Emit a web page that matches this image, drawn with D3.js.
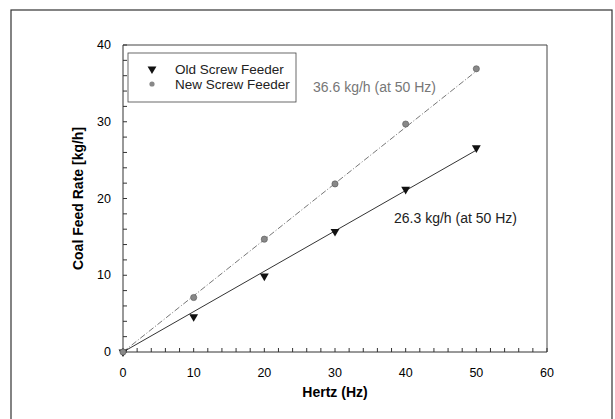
<!DOCTYPE html>
<html>
<head>
<meta charset="utf-8">
<script src="https://cdn.jsdelivr.net/npm/d3@7"></script>
<style>
  body { margin: 0; background: #fff; }
  text { font-family: Arial, "Liberation Sans", sans-serif; }
</style>
</head>
<body>
<div id="chart"></div>
<script>
// measured points
const hz = [0, 10, 20, 30, 40, 50];
const oldFeeder = [0, 4.6, 9.9, 15.7, 21.2, 26.6];
const newFeeder = [0, 7.1, 14.7, 21.9, 29.7, 36.9];
// linear fits (end points)
const fitHz = [0, 50];
const oldFit = [0, 26.3];
const newFit = [0, 36.6];
const xTicks = [0, 10, 20, 30, 40, 50, 60];
const yTicks = [0, 10, 20, 30, 40];

const W = 615, H = 419;
const margin = { top: 45, right: 68, bottom: 67, left: 123 };

const svg = d3.select('#chart').append('svg')
  .attr('width', W).attr('height', H);

// outer frame
svg.append('rect')
  .attr('x', 11).attr('y', 10).attr('width', 601).attr('height', 420)
  .attr('fill', 'none').attr('stroke', '#333').attr('stroke-width', 1.2);

const x = d3.scaleLinear().domain([0, 60]).range([margin.left, W - margin.right]);
const y = d3.scaleLinear().domain([0, 40]).range([H - margin.bottom, margin.top]);

// plot box (top + right)
svg.append('path')
  .attr('d', `M${x(0)},${y(40)}H${x(60)}V${y(0)}`)
  .attr('fill', 'none').attr('stroke', '#444').attr('stroke-width', 1);

// x axis: inward ticks, minor every 2
const xAxis = svg.append('g').attr('transform', `translate(0,${y(0)})`);
xAxis.append('line').attr('x1', x(0)).attr('x2', x(60)).attr('stroke', '#333');
xAxis.selectAll('.minor').data(d3.range(0, 61, 2)).enter().append('line')
  .attr('x1', d => x(d)).attr('x2', d => x(d))
  .attr('y1', 0).attr('y2', -4).attr('stroke', '#333');
xAxis.selectAll('.lab').data(xTicks).enter().append('text')
  .attr('x', d => x(d)).attr('y', 25)
  .attr('text-anchor', 'middle').style('font-size', '12.5px').text(d => d);

// y axis
const yAxis = svg.append('g').attr('transform', `translate(${x(0)},0)`);
yAxis.append('line').attr('y1', y(0)).attr('y2', y(40)).attr('stroke', '#333');
yAxis.selectAll('.minor').data(d3.range(0, 41, 2)).enter().append('line')
  .attr('y1', d => y(d)).attr('y2', d => y(d))
  .attr('x1', 0).attr('x2', 4).attr('stroke', '#333');
yAxis.selectAll('.lab').data(yTicks).enter().append('text')
  .attr('x', -12).attr('y', d => y(d) + 4)
  .attr('text-anchor', 'end').style('font-size', '12.5px').text(d => d);

// axis titles
svg.append('text')
  .attr('transform', `translate(83,${(y(0) + y(40)) / 2}) rotate(-90)`)
  .attr('text-anchor', 'middle').style('font-size', '14px').style('font-weight', 'bold')
  .text('Coal Feed Rate [kg/h]');
svg.append('text')
  .attr('x', (x(0) + x(60)) / 2).attr('y', 397)
  .attr('text-anchor', 'middle').style('font-size', '14px').style('font-weight', 'bold')
  .text('Hertz (Hz)');

// fit lines
const fitLine = vals => d3.line().x((d, i) => x(fitHz[i])).y(d => y(d))(vals);
svg.append('path').attr('d', fitLine(newFit))
  .attr('fill', 'none').attr('stroke', '#777').attr('stroke-width', 1)
  .attr('stroke-dasharray', '6,2,1,2');
svg.append('path').attr('d', fitLine(oldFit))
  .attr('fill', 'none').attr('stroke', '#333').attr('stroke-width', 1);

// markers
const tri = d3.symbol().type(d3.symbolTriangle).size(34);
svg.selectAll('.old').data(oldFeeder).enter().append('path')
  .attr('d', tri)
  .attr('transform', (d, i) => `translate(${x(hz[i])},${y(d)}) rotate(180)`)
  .attr('fill', '#111');
svg.selectAll('.new').data(newFeeder).enter().append('circle')
  .attr('cx', (d, i) => x(hz[i])).attr('cy', d => y(d)).attr('r', 3.1)
  .attr('fill', '#888').attr('stroke', '#555').attr('stroke-width', 0.6);

// annotations
svg.append('text').attr('x', 313).attr('y', 92)
  .style('font-size', '14px').attr('fill', '#777').text('36.6 kg/h (at 50 Hz)');
svg.append('text').attr('x', 394).attr('y', 223)
  .style('font-size', '14px').attr('fill', '#222').text('26.3 kg/h (at 50 Hz)');

// legend
const lg = svg.append('g').attr('transform', 'translate(128,53)');
lg.append('rect').attr('width', 168).attr('height', 49)
  .attr('fill', '#fff').attr('stroke', '#444').attr('stroke-width', 0.8);
lg.append('path').attr('d', tri).attr('transform', 'translate(24,16) rotate(180)').attr('fill', '#111');
lg.append('circle').attr('cx', 24).attr('cy', 31).attr('r', 2.6).attr('fill', '#888');
lg.append('text').attr('x', 47).attr('y', 21).style('font-size', '13.5px').attr('fill', '#222').text('Old Screw Feeder');
lg.append('text').attr('x', 47).attr('y', 36).style('font-size', '13.5px').attr('fill', '#222').text('New Screw Feeder');
</script>
</body>
</html>
